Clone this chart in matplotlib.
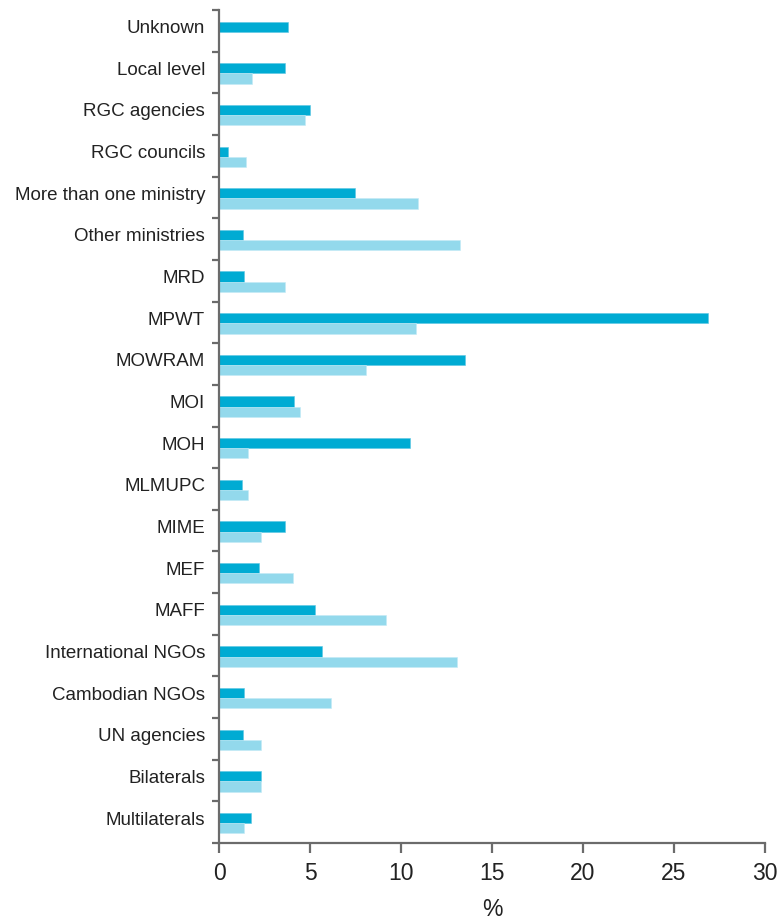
import numpy as np
import matplotlib
matplotlib.use("Agg")
import matplotlib.pyplot as plt
from matplotlib.ticker import FixedLocator

plt.rcParams['font.family'] = ['Liberation Sans Narrow', 'Liberation Sans', 'DejaVu Sans']

# categories listed top to bottom
categories = ["Unknown", "Local level", "RGC agencies", "RGC councils",
              "More than one ministry", "Other ministries", "MRD", "MPWT",
              "MOWRAM", "MOI", "MOH", "MLMUPC", "MIME", "MEF", "MAFF",
              "International NGOs", "Cambodian NGOs", "UN agencies",
              "Bilaterals", "Multilaterals"]
dark_vals = [3.8, 3.6, 5.0, 0.5, 7.45, 1.3, 1.35, 26.85, 13.5, 4.1,
             10.5, 1.25, 3.65, 2.2, 5.25, 5.65, 1.4, 1.3, 2.3, 1.75]
light_vals = [0.0, 1.8, 4.75, 1.5, 10.95, 13.25, 3.65, 10.8, 8.1, 4.45,
              1.6, 1.6, 2.3, 4.05, 9.15, 13.1, 6.15, 2.3, 2.3, 1.35]
xticks = [0, 5, 10, 15, 20, 25, 30]

dark = '#00ABD3'
light = '#93D9EC'
grey = '#6b6b6b'
txt = '#222222'

fig = plt.figure(figsize=(7.78, 9.21), dpi=100)
ax = fig.add_axes([0.2815, 0.0847, 0.7018, 0.9044])

y = np.arange(len(categories))
h = 0.245
ax.barh(y - 0.10, dark_vals, height=h, color=dark, edgecolor='#5cc6e3', linewidth=0.4)
ax.barh(y + 0.145, light_vals, height=h, color=light, edgecolor='#c4eaf5', linewidth=0.4)

ax.set_ylim(len(categories) - 0.5, -0.5)
ax.set_xlim(0, 30)

# labels sit beside the dark bars, tick marks fall between categories
ax.set_yticks(y - 0.1)
ax.set_yticklabels(categories, fontsize=13.5, color=txt)
ax.tick_params(axis='y', which='major', length=0, pad=10)
ax.yaxis.set_minor_locator(FixedLocator(np.arange(-0.5, len(categories) + 0.5, 1)))
ax.tick_params(axis='y', which='minor', length=5, width=1.6, color=grey)

ax.set_xticks(xticks)
ax.set_xticklabels([str(t) for t in xticks], fontsize=16.5, color=txt)
ax.tick_params(axis='x', length=7, width=1.6, color=grey, pad=7)
ax.set_xlabel('%', fontsize=16.5, color=txt, labelpad=9)

for s in ['top', 'right']:
    ax.spines[s].set_visible(False)
for s in ['left', 'bottom']:
    ax.spines[s].set_color(grey)
    ax.spines[s].set_linewidth(1.6)

fig.savefig('out.png', dpi=100)
